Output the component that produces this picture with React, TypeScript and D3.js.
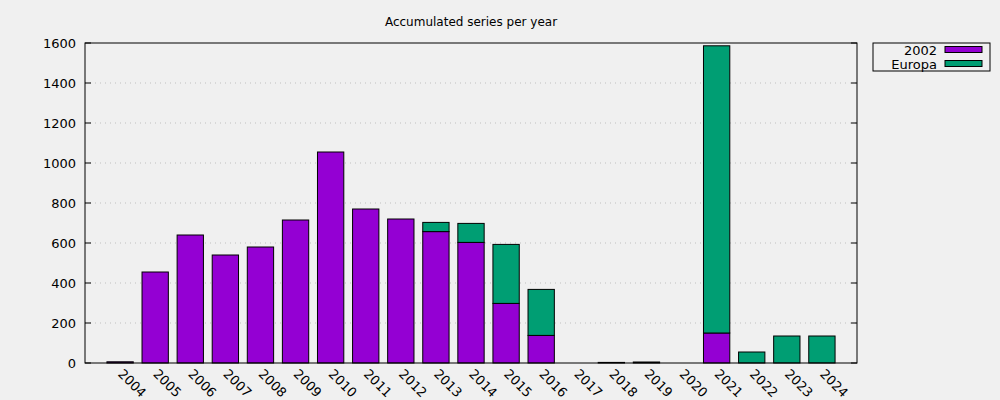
import React from "react";
import * as d3 from "d3";

const years = ["2004","2005","2006","2007","2008","2009","2010","2011","2012","2013","2014","2015","2016","2017","2018","2019","2020","2021","2022","2023","2024"];
const series2002 = [6, 455, 640, 540, 580, 715, 1055, 770, 720, 657, 603, 298, 138, 0, 0, 5, 0, 150, 0, 0, 0];
const seriesEuropa = [0, 0, 0, 0, 0, 0, 0, 0, 0, 46, 95, 295, 230, 0, 3, 0, 0, 1436, 55, 135, 135];
const yTicks = [0, 200, 400, 600, 800, 1000, 1200, 1400, 1600];
const seriesNames = ["2002", "Europa"];
const colors = ["#9400d3", "#009e73"];

export default function App() {
  const W = 1000, H = 400;
  const left = 85, right = 857, top = 43, bottom = 363;
  const x = d3.scaleLinear().domain([-1, years.length]).range([left, right]);
  const y = d3.scaleLinear().domain([0, 1600]).range([bottom, top]);
  const bw = 0.75 * (x(1) - x(0));
  const font = "'DejaVu Sans', sans-serif";
  const stacks = [series2002, seriesEuropa];
  return (
    <svg width={W} height={H} style={{ position: "absolute", left: 0, top: 0, background: "#f0f0f0" }} fontFamily={font}>
      <rect x={0} y={0} width={W} height={H} fill="#f0f0f0" />
      {yTicks.filter(t => t > 0 && t < 1600).map(t => (
        <line key={"g" + t} x1={left} x2={right} y1={y(t)} y2={y(t)} stroke="#c0c0c0" strokeWidth={1} strokeDasharray="1,4" />
      ))}
      {years.map((yr, i) => {
        let base = 0;
        return stacks.map((s, k) => {
          const v = s[i];
          const b = base;
          base += v;
          if (v <= 0) return null;
          const y0 = y(b), y1 = y(b + v);
          return (
            <rect key={yr + k} x={x(i) - bw / 2} y={y1} width={bw} height={Math.max(y0 - y1, 0.5)}
              fill={colors[k]} stroke="#000" strokeWidth={1} />
          );
        });
      })}
      <rect x={left} y={top} width={right - left} height={bottom - top} fill="none" stroke="#000" strokeWidth={1} />
      {yTicks.map(t => (
        <g key={"t" + t}>
          <line x1={left} x2={left + 6} y1={y(t)} y2={y(t)} stroke="#000" />
          <line x1={right - 6} x2={right} y1={y(t)} y2={y(t)} stroke="#000" />
          <text x={left - 9} y={y(t)} dy="0.35em" textAnchor="end" fontSize={13} fill="#000">{t}</text>
        </g>
      ))}
      {years.map((yr, i) => (
        <text key={"x" + yr} transform={`translate(${x(i)},${bottom + 9}) rotate(45)`} fontSize={13} fill="#000" dy="0.3em">{yr}</text>
      ))}
      <text x={(left + right) / 2} y={22} dy="0.35em" textAnchor="middle" fontSize={12} fill="#000">Accumulated series per year</text>
      <rect x={873} y={43} width={117} height={28} fill="none" stroke="#000" strokeWidth={1} />
      {seriesNames.map((n, k) => (
        <g key={"l" + n}>
          <text x={937} y={50 + k * 14} dy="0.35em" textAnchor="end" fontSize={13} fill="#000">{n}</text>
          <rect x={945} y={46.5 + k * 14} width={37} height={6} fill={colors[k]} stroke="#000" strokeWidth={1} />
        </g>
      ))}
    </svg>
  );
}
